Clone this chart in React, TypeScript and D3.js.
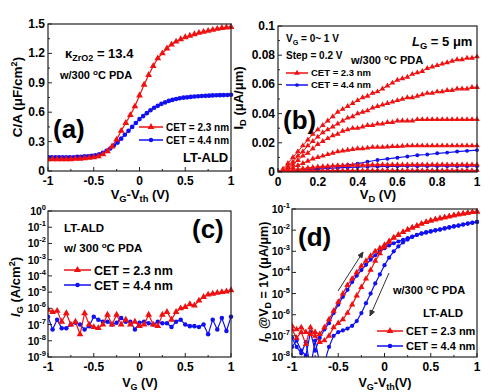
import React from 'react';
import * as d3 from 'd3';

const RED = '#f01010';
const BLUE = '#1010f0';
const FONT = '"Liberation Sans", Arial, sans-serif';

// ---- panel (a): C-V ----
const aRedStep = 0.05;
const aRedCV = [
  0.12, 0.12, 0.12, 0.12, 0.12, 0.12, 0.125, 0.125, 0.13, 0.135,
  0.14, 0.15, 0.17, 0.2, 0.25, 0.32, 0.41, 0.49, 0.57, 0.66,
  0.77, 0.88, 0.98, 1.07, 1.15, 1.2, 1.25, 1.29, 1.32, 1.345,
  1.365, 1.38, 1.395, 1.41, 1.42, 1.43, 1.44, 1.45, 1.46, 1.465,
  1.47,
];
const aBlueStep = 0.04;
const aBlueCV = [
  0.14, 0.14, 0.14, 0.14, 0.14, 0.14, 0.14, 0.14, 0.145, 0.145,
  0.15, 0.15, 0.155, 0.16, 0.17, 0.185, 0.205, 0.23, 0.26, 0.29,
  0.33, 0.37, 0.41, 0.45, 0.49, 0.53, 0.56, 0.59, 0.62, 0.645,
  0.665, 0.685, 0.7, 0.715, 0.725, 0.735, 0.742, 0.748, 0.752, 0.756,
  0.76, 0.763, 0.765, 0.767, 0.769, 0.771, 0.773, 0.774, 0.775, 0.776,
  0.778,
];
const aYTicks = [0, 0.3, 0.6, 0.9, 1.2, 1.5];
const aXTicks = [-1, -0.5, 0, 0.5, 1];

// ---- panel (b): ID-VD ----
const bRedStep = 0.025;
const bRed10 = [
  0, 0.002, 0.006, 0.01, 0.014, 0.018, 0.022, 0.026, 0.029, 0.032,
  0.035, 0.038, 0.041, 0.043, 0.045, 0.047, 0.049, 0.051, 0.052, 0.054,
  0.055, 0.057, 0.059, 0.061, 0.063, 0.064, 0.065, 0.067, 0.068, 0.069,
  0.071, 0.072, 0.073, 0.074, 0.075, 0.076, 0.077, 0.077, 0.078, 0.078,
  0.079,
];
const bRed08 = [
  0, 0.001, 0.004, 0.007, 0.011, 0.014, 0.018, 0.021, 0.024, 0.027,
  0.029, 0.031, 0.033, 0.035, 0.037, 0.038, 0.04, 0.041, 0.042, 0.044,
  0.045, 0.046, 0.047, 0.048, 0.049, 0.05, 0.051, 0.051, 0.052, 0.053,
  0.054, 0.054, 0.055, 0.055, 0.056, 0.056, 0.057, 0.057, 0.057, 0.058,
  0.058,
];
const bRed06 = [
  0, 0.001, 0.003, 0.005, 0.008, 0.011, 0.013, 0.016, 0.019, 0.021,
  0.023, 0.025, 0.026, 0.028, 0.029, 0.03, 0.03, 0.031, 0.032, 0.032,
  0.033, 0.033, 0.034, 0.034, 0.035, 0.035, 0.035, 0.035, 0.036, 0.036,
  0.036, 0.036, 0.036, 0.036, 0.036, 0.036, 0.036, 0.036, 0.036, 0.036,
  0.036,
];
const bRed04 = [
  0, 0.0005, 0.0015, 0.003, 0.0045, 0.006, 0.0075, 0.009, 0.01, 0.011,
  0.012, 0.013, 0.014, 0.0145, 0.015, 0.0155, 0.016, 0.016, 0.0165, 0.017,
  0.017, 0.017, 0.0173, 0.0175, 0.0175, 0.0178, 0.018, 0.018, 0.018, 0.018,
  0.018, 0.018, 0.018, 0.018, 0.018, 0.018, 0.018, 0.018, 0.018, 0.018,
  0.018,
];
const bRed02 = [
  0, 0.0003, 0.0008, 0.0013, 0.0018, 0.0023, 0.0028, 0.0032, 0.0035, 0.0038,
  0.004, 0.0042, 0.0044, 0.0045, 0.0046, 0.0047, 0.0048, 0.0048, 0.0049, 0.0049,
  0.005, 0.005, 0.005, 0.005, 0.005, 0.005, 0.005, 0.005, 0.005, 0.005,
  0.005, 0.005, 0.005, 0.005, 0.005, 0.005, 0.005, 0.005, 0.005, 0.005,
  0.005,
];
const bRed00 = [
  0, 0.0003, 0.0006, 0.0008, 0.0009, 0.001, 0.001, 0.001, 0.001, 0.001,
  0.001, 0.001, 0.001, 0.001, 0.001, 0.001, 0.001, 0.001, 0.001, 0.001,
  0.001, 0.001, 0.001, 0.001, 0.001, 0.001, 0.001, 0.001, 0.001, 0.001,
  0.001, 0.001, 0.001, 0.001, 0.001, 0.001, 0.001, 0.001, 0.001, 0.001,
  0.001,
];
const bBlueStep = 0.05;
const bBlue10 = [
  0, 0.0005, 0.001, 0.0017, 0.0025, 0.0032, 0.004, 0.0048, 0.0057, 0.007,
  0.0082, 0.009, 0.0098, 0.0106, 0.0115, 0.012, 0.0128, 0.0133, 0.014, 0.0145,
  0.015,
];
const bBlue08 = [
  0, 0.0004, 0.0009, 0.0014, 0.0019, 0.0024, 0.0028, 0.0031, 0.0034, 0.0036,
  0.0037, 0.0038, 0.0039, 0.004, 0.004, 0.004, 0.004, 0.004, 0.004, 0.004,
  0.004,
];
const bBlue06 = [
  0, 0.0002, 0.0004, 0.0006, 0.0007, 0.0008, 0.0008, 0.0008, 0.0008, 0.0008,
  0.0008, 0.0008, 0.0008, 0.0008, 0.0008, 0.0008, 0.0008, 0.0008, 0.0008, 0.0008,
  0.0008,
];
const bBlue04 = [
  0, 0.0001, 0.0002, 0.0002, 0.0002, 0.0002, 0.0002, 0.0002, 0.0002, 0.0002,
  0.0002, 0.0002, 0.0002, 0.0002, 0.0002, 0.0002, 0.0002, 0.0002, 0.0002, 0.0002,
  0.0002,
];
const bYTicks = [0, 0.02, 0.04, 0.06, 0.08, 0.1];
const bXTicks = [0, 0.2, 0.4, 0.6, 0.8, 1];

// ---- panel (c): IG-VG ----
const cStep = 0.05;
const cRedIG = [
  8e-7, 6e-7, 7e-7, 1.5e-7, 5e-7, 1e-7, 1.5e-7, 2.5e-8, 5e-7, 1e-7,
  7e-8, 6e-8, 1e-7, 4e-7, 1e-7, 4e-7, 1e-7, 2e-7, 1e-7, 1.5e-7,
  8e-8, 1e-7, 4e-7, 1e-7, 8e-8, 4e-7, 6e-7, 2e-7, 6e-7, 1e-6,
  1.2e-6, 1.8e-6, 1.5e-6, 3e-6, 5e-6, 7e-6, 8e-6, 9e-6, 1e-5, 1.1e-5,
  1.3e-5,
];
const cBlueIG = [
  3e-7, 5e-8, 2e-7, 6e-8, 6e-8, 1e-7, 1.3e-7, 1e-7, 5e-8, 8e-8,
  3e-7, 2e-7, 1.5e-7, 1.5e-7, 1e-7, 1.3e-7, 2.5e-7, 1.5e-7, 1.5e-7, 5e-8,
  1.3e-7, 1.5e-7, 1.2e-7, 1e-7, 1.5e-7, 1.2e-7, 1.2e-7, 7e-8, 1.5e-7, 2e-7,
  1e-7, 8e-8, 8e-8, 7e-8, 1e-7, 2.5e-8, 2e-7, 5e-8, 2.5e-7, 4e-8,
  3e-7,
];
const cExps = [0, -1, -2, -3, -4, -5, -6, -7, -8, -9];

// ---- panel (d): ID-VG hysteresis ----
const dStep = 0.05;
const dRedFwd = [
  3e-7, 2e-7, 2.5e-7, 1.5e-7, 1.2e-7, 1.5e-7, 1.2e-7, 2.5e-7, 6e-7, 1.5e-6,
  4e-6, 1e-5, 2.5e-5, 5e-5, 1e-4, 2e-4, 3.5e-4, 6e-4, 1e-3, 1.4e-3,
  2e-3, 3e-3, 4.5e-3, 6e-3, 8e-3, 1.05e-2, 1.3e-2, 1.6e-2, 2e-2, 2.4e-2,
  2.8e-2, 3.2e-2, 3.6e-2, 4e-2, 4.5e-2, 5e-2, 5.5e-2, 6e-2, 6.5e-2, 7e-2,
  7.5e-2,
];
const dRedRev = [
  2e-7, 8e-8, 1.5e-7, 4e-8, 2.5e-7, 1e-7, 5e-8, 6e-8, 1e-7, 2.5e-7,
  4e-7, 6e-7, 1.2e-6, 3e-6, 8e-6, 2e-5, 5e-5, 1.3e-4, 3.5e-4, 8e-4,
  1.6e-3, 2.8e-3, 4.3e-3, 6e-3, 8e-3, 1.05e-2, 1.3e-2, 1.6e-2, 2e-2, 2.4e-2,
  2.8e-2, 3.2e-2, 3.6e-2, 4e-2, 4.5e-2, 5e-2, 5.5e-2, 6e-2, 6.5e-2, 7e-2,
  7.5e-2,
];
const dBlueFwd = [
  3e-8, 6e-8, 2e-8, 1.2e-8, 1.5e-7, 2e-8, 8e-8, 2e-7, 4e-7, 1.2e-6,
  3e-6, 7e-6, 1.5e-5, 3.5e-5, 7e-5, 1.3e-4, 2.3e-4, 4e-4, 6.5e-4, 1e-3,
  1.4e-3, 1.9e-3, 2.4e-3, 2.9e-3, 3.5e-3, 4.2e-3, 5e-3, 5.9e-3, 6.8e-3, 7.6e-3,
  8.5e-3, 9.5e-3, 1.05e-2, 1.17e-2, 1.3e-2, 1.45e-2, 1.6e-2, 1.8e-2, 2e-2, 2.2e-2,
  2.45e-2,
];
const dBlueRev = [
  8e-8, 3e-8, 1.5e-8, 5e-8, 3e-9, 6e-8, 5e-9, 5e-9, 3e-8, 1e-7,
  1.5e-7, 1.8e-7, 2.2e-7, 3e-7, 5e-7, 1.2e-6, 3.5e-6, 1e-5, 3e-5, 8e-5,
  2.2e-4, 5e-4, 1e-3, 1.7e-3, 2.6e-3, 3.6e-3, 4.8e-3, 6e-3, 7e-3, 8e-3,
  9e-3, 1e-2, 1.1e-2, 1.25e-2, 1.4e-2, 1.55e-2, 1.7e-2, 1.9e-2, 2.1e-2, 2.3e-2,
  2.45e-2,
];
const dExps = [-1, -2, -3, -4, -5, -6, -7, -8];

type Box = { x0: number; x1: number; y0: number; y1: number };
type Scale = (v: number) => number;

const boxA: Box = { x0: 48, x1: 231, y0: 24, y1: 171 };
const boxB: Box = { x0: 278, x1: 477, y0: 26, y1: 172 };
const boxC: Box = { x0: 48, x1: 231, y0: 211, y1: 357 };
const boxD: Box = { x0: 292, x1: 477, y0: 209, y1: 357 };

const grid = (start: number, step: number, n: number) => d3.range(n).map(i => start + i * step);

function Series({ xs, ys, x, y, color, kind, size, lw = 1.2 }: {
  xs: number[]; ys: number[]; x: Scale; y: Scale; color: string; kind: 'tri' | 'circle'; size: number; lw?: number;
}) {
  const pts: [number, number][] = xs.map((v, i) => [x(v), y(ys[i])]);
  const line = d3.line();
  const tri = d3.symbol().type(d3.symbolTriangle).size(size)() || '';
  const r = Math.sqrt(size / Math.PI);
  return (
    <g>
      <path d={line(pts) || ''} fill="none" stroke={color} strokeWidth={lw} />
      <g fill={color}>
        {pts.map((p, i) =>
          kind === 'tri'
            ? <path key={i} d={tri} transform={`translate(${p[0]},${p[1]})`} />
            : <circle key={i} cx={p[0]} cy={p[1]} r={r} />
        )}
      </g>
    </g>
  );
}

function Legend({ x, y, color, kind, label, fs, len = 26, size = 16 }: {
  x: number; y: number; color: string; kind: 'tri' | 'circle'; label: string; fs: number; len?: number; size?: number;
}) {
  const tri = d3.symbol().type(d3.symbolTriangle).size(size)() || '';
  return (
    <g>
      <line x1={x} x2={x + len} y1={y} y2={y} stroke={color} strokeWidth={1.5} />
      {kind === 'tri'
        ? <path d={tri} fill={color} transform={`translate(${x + len / 2},${y})`} />
        : <circle cx={x + len / 2} cy={y} r={Math.sqrt(size / Math.PI)} fill={color} />}
      <text x={x + len + 3} y={y + fs * 0.36} fontSize={fs} fontWeight="bold">{label}</text>
    </g>
  );
}

function LinTicks({ box, x, y, xTicks, yTicks, xMinor, yMinor, xFmt, yFmt, fs }: {
  box: Box; x: Scale; y: Scale; xTicks: number[]; yTicks: number[]; xMinor: number[]; yMinor: number[];
  xFmt: (v: number) => string; yFmt: (v: number) => string; fs: number;
}) {
  return (
    <g stroke="#222" strokeWidth={1}>
      {xTicks.map(v => <line key={'xm' + v} x1={x(v)} x2={x(v)} y1={box.y1} y2={box.y1 - 4} />)}
      {xMinor.map(v => <line key={'xn' + v} x1={x(v)} x2={x(v)} y1={box.y1} y2={box.y1 - 2} />)}
      {yTicks.map(v => <line key={'ym' + v} x1={box.x0} x2={box.x0 + 4} y1={y(v)} y2={y(v)} />)}
      {yMinor.map(v => <line key={'yn' + v} x1={box.x0} x2={box.x0 + 2} y1={y(v)} y2={y(v)} />)}
      <g stroke="none" fontSize={fs} fontWeight="bold">
        {xTicks.map(v => <text key={'xl' + v} x={x(v)} y={box.y1 + 14} textAnchor="middle">{xFmt(v)}</text>)}
        {yTicks.map(v => <text key={'yl' + v} x={box.x0 - 3} y={y(v) + fs * 0.34} textAnchor="end">{yFmt(v)}</text>)}
      </g>
    </g>
  );
}

function LogYTicks({ box, y, exps }: { box: Box; y: Scale; exps: number[] }) {
  return (
    <g>
      {exps.map(e => (
        <g key={e}>
          <line x1={box.x0} x2={box.x0 + 4} y1={y(Math.pow(10, e))} y2={y(Math.pow(10, e))} stroke="#222" />
          <text x={box.x0 - 2} y={y(Math.pow(10, e)) + 4} textAnchor="end" fontSize={10.5} fontWeight="bold">
            10<tspan dy={-5} fontSize={7.5}>{e}</tspan>
          </text>
        </g>
      ))}
    </g>
  );
}

function Frame({ box }: { box: Box }) {
  return <rect x={box.x0} y={box.y0} width={box.x1 - box.x0} height={box.y1 - box.y0} fill="none" stroke="#222" strokeWidth={1.2} />;
}

function Clip({ id, box }: { id: string; box: Box }) {
  return (
    <clipPath id={id}>
      <rect x={box.x0} y={box.y0 - 3} width={box.x1 - box.x0 + 3} height={box.y1 - box.y0 + 3} />
    </clipPath>
  );
}

const sub = (t: string) => <tspan fontSize="0.72em" dy={3}>{t}</tspan>;

export default function App() {
  const ax = d3.scaleLinear().domain([-1, 1]).range([boxA.x0, boxA.x1]);
  const ay = d3.scaleLinear().domain([0, 1.5]).range([boxA.y1, boxA.y0]);
  const bx = d3.scaleLinear().domain([0, 1]).range([boxB.x0, boxB.x1]);
  const by = d3.scaleLinear().domain([0, 0.1]).range([boxB.y1, boxB.y0]);
  const cx = d3.scaleLinear().domain([-1, 1]).range([boxC.x0, boxC.x1]);
  const cy = d3.scaleLog().domain([1e-9, 1]).range([boxC.y1, boxC.y0]);
  const dx = d3.scaleLinear().domain([-1, 1]).range([boxD.x0, boxD.x1]);
  const dy = d3.scaleLog().domain([1e-8, 1e-1]).range([boxD.y1, boxD.y0]);

  const aRedX = grid(-1, aRedStep, aRedCV.length);
  const aBlueX = grid(-1, aBlueStep, aBlueCV.length);
  const bRedX = grid(0, bRedStep, bRed10.length);
  const bBlueX = grid(0, bBlueStep, bBlue10.length);
  const cX = grid(-1, cStep, cRedIG.length);
  const dX = grid(-1, dStep, dRedFwd.length);

  const fmtA = (v: number) => (v === 0 ? '0' : v.toFixed(1));
  const fmtX = (v: number) => String(v);
  const fmtB = (v: number) => (v === 0 ? '0' : String(v));

  const arrow = (x1: number, y1: number, x2: number, y2: number) => {
    const a = Math.atan2(y2 - y1, x2 - x1);
    const h = 6, w = 0.4;
    const p1 = [x2 - h * Math.cos(a - w), y2 - h * Math.sin(a - w)];
    const p2 = [x2 - h * Math.cos(a + w), y2 - h * Math.sin(a + w)];
    return (
      <g stroke="#333" strokeWidth={1} fill="#333">
        <line x1={x1} y1={y1} x2={x2} y2={y2} />
        <path d={`M${x2},${y2}L${p1[0]},${p1[1]}L${p2[0]},${p2[1]}Z`} />
      </g>
    );
  };

  return (
    <svg width={492} height={392} style={{ position: 'absolute', left: 0, top: 0, background: '#fff' }} fontFamily={FONT}>
      <defs>
        <Clip id="ca" box={boxA} />
        <Clip id="cb" box={boxB} />
        <Clip id="cc" box={boxC} />
        <Clip id="cd" box={boxD} />
      </defs>

      {/* ---------- (a) ---------- */}
      <g clipPath="url(#ca)">
        <Series xs={aBlueX} ys={aBlueCV} x={ax} y={ay} color={BLUE} kind="circle" size={17} />
        <Series xs={aRedX} ys={aRedCV} x={ax} y={ay} color={RED} kind="tri" size={20} />
      </g>
      <Frame box={boxA} />
      <LinTicks box={boxA} x={ax} y={ay} xTicks={aXTicks} yTicks={aYTicks}
        xMinor={[-0.75, -0.25, 0.25, 0.75]} yMinor={[0.15, 0.45, 0.75, 1.05, 1.35]}
        xFmt={fmtX} yFmt={fmtA} fs={12} />
      <text transform="translate(22,97) rotate(-90)" textAnchor="middle" fontSize={13.5} fontWeight="bold">
        C/A (μF/cm<tspan fontSize={9} dy={-5}>2</tspan><tspan dy={5}>)</tspan>
      </text>
      <text x={140} y={199} textAnchor="middle" fontSize={13} fontWeight="bold">
        V{sub('G')}<tspan dy={-3}>-V</tspan>{sub('th')}<tspan dy={-3}> (V)</tspan>
      </text>
      <text x={65} y={58} fontSize={13} fontWeight="bold">
        κ<tspan fontSize={9} dy={3}>ZrO2</tspan><tspan dy={-3}> = 13.4</tspan>
      </text>
      <text x={60} y={79} fontSize={11} fontWeight="bold">
        w/300 <tspan fontSize={8} dy={-4}>o</tspan><tspan dy={4}>C PDA</tspan>
      </text>
      <text x={53} y={138} fontSize={26} fontWeight="bold">(a)</text>
      <Legend x={139} y={127} color={RED} kind="tri" label="CET = 2.3 nm" fs={10} len={24} size={20} />
      <Legend x={139} y={140} color={BLUE} kind="circle" label="CET = 4.4 nm" fs={10} len={24} size={15} />
      <text x={183} y={162} fontSize={13} fontWeight="bold">LT-ALD</text>

      {/* ---------- (b) ---------- */}
      <g clipPath="url(#cb)">
        {[bBlue04, bBlue06, bBlue08, bBlue10].map((s, i) => (
          <Series key={'bb' + i} xs={bBlueX} ys={s} x={bx} y={by} color={BLUE} kind="circle" size={12} />
        ))}
        {[bRed00, bRed02, bRed04, bRed06, bRed08, bRed10].map((s, i) => (
          <Series key={'br' + i} xs={bRedX} ys={s} x={bx} y={by} color={RED} kind="tri" size={14} lw={1} />
        ))}
      </g>
      <Frame box={boxB} />
      <LinTicks box={boxB} x={bx} y={by} xTicks={bXTicks} yTicks={bYTicks}
        xMinor={[0.1, 0.3, 0.5, 0.7, 0.9]} yMinor={[0.01, 0.03, 0.05, 0.07, 0.09]}
        xFmt={fmtB} yFmt={fmtB} fs={12} />
      <text transform="translate(243,98) rotate(-90)" textAnchor="middle" fontSize={13} fontWeight="bold">
        I{sub('D')}<tspan dy={-3}> (μA/μm)</tspan>
      </text>
      <text x={378} y={199} textAnchor="middle" fontSize={13} fontWeight="bold">
        V{sub('D')}<tspan dy={-3}> (V)</tspan>
      </text>
      <text x={286} y={42} fontSize={10} fontWeight="bold">
        V{sub('G')}<tspan dy={-3}> = 0~ 1 V</tspan>
      </text>
      <text x={286} y={59} fontSize={10} fontWeight="bold">Step = 0.2 V</text>
      <text x={412} y={46} fontSize={13} fontWeight="bold">
        <tspan fontStyle="italic">L</tspan>{sub('G')}<tspan dy={-3}> = 5 μm</tspan>
      </text>
      <text x={351} y={64} fontSize={11} fontWeight="bold">
        w/300 <tspan fontSize={8} dy={-4}>o</tspan><tspan dy={4}>C PDA</tspan>
      </text>
      <Legend x={286} y={73} color={RED} kind="tri" label="CET = 2.3 nm" fs={9.5} len={22} size={14} />
      <Legend x={286} y={85} color={BLUE} kind="circle" label="CET = 4.4 nm" fs={9.5} len={22} size={11} />
      <text x={283} y={129} fontSize={26} fontWeight="bold">(b)</text>

      {/* ---------- (c) ---------- */}
      <g clipPath="url(#cc)">
        <Series xs={cX} ys={cBlueIG} x={cx} y={cy} color={BLUE} kind="circle" size={16} />
        <Series xs={cX} ys={cRedIG} x={cx} y={cy} color={RED} kind="tri" size={20} />
      </g>
      <Frame box={boxC} />
      <LinTicks box={boxC} x={cx} y={() => -100} xTicks={aXTicks} yTicks={[]}
        xMinor={[-0.75, -0.25, 0.25, 0.75]} yMinor={[]} xFmt={fmtX} yFmt={fmtX} fs={12} />
      <LogYTicks box={boxC} y={cy} exps={cExps} />
      <text transform="translate(20,287) rotate(-90)" textAnchor="middle" fontSize={13} fontWeight="bold">
        <tspan fontStyle="italic">I</tspan>{sub('G')}<tspan dy={-3}> (A/cm</tspan><tspan fontSize={9} dy={-5}>2</tspan><tspan dy={5}>)</tspan>
      </text>
      <text x={140} y={387} textAnchor="middle" fontSize={12.5} fontWeight="bold">
        V{sub('G')}<tspan dy={-3}> (V)</tspan>
      </text>
      <text x={64} y={232} fontSize={11.5} fontWeight="bold">LT-ALD</text>
      <text x={64} y={252} fontSize={11.5} fontWeight="bold">
        w/ 300 <tspan fontSize={8} dy={-4}>o</tspan><tspan dy={4}>C PDA</tspan>
      </text>
      <text x={192} y={238} fontSize={26} fontWeight="bold">(c)</text>
      <Legend x={64} y={270} color={RED} kind="tri" label="CET = 2.3 nm" fs={12.5} len={27} size={22} />
      <Legend x={64} y={285} color={BLUE} kind="circle" label="CET = 4.4 nm" fs={12.5} len={27} size={16} />

      {/* ---------- (d) ---------- */}
      <g clipPath="url(#cd)">
        <Series xs={dX} ys={dBlueRev} x={dx} y={dy} color={BLUE} kind="circle" size={14} />
        <Series xs={dX} ys={dBlueFwd} x={dx} y={dy} color={BLUE} kind="circle" size={14} />
        <Series xs={dX} ys={dRedRev} x={dx} y={dy} color={RED} kind="tri" size={17} />
        <Series xs={dX} ys={dRedFwd} x={dx} y={dy} color={RED} kind="tri" size={17} />
      </g>
      <Frame box={boxD} />
      <LinTicks box={boxD} x={dx} y={() => -100} xTicks={aXTicks} yTicks={[]}
        xMinor={[-0.75, -0.25, 0.25, 0.75]} yMinor={[]} xFmt={fmtX} yFmt={fmtX} fs={12} />
      <LogYTicks box={boxD} y={dy} exps={dExps} />
      <text transform="translate(268,282) rotate(-90)" textAnchor="middle" fontSize={12.5} fontWeight="bold">
        <tspan fontStyle="italic">I</tspan>{sub('D')}<tspan dy={-3}> @V</tspan>{sub('D')}<tspan dy={-3}> = 1V (μA/μm)</tspan>
      </text>
      <text x={385} y={387} textAnchor="middle" fontSize={12.5} fontWeight="bold">
        V{sub('G')}<tspan dy={-3}>-V</tspan>{sub('th')}<tspan dy={-3}>(V)</tspan>
      </text>
      <text x={298} y={246} fontSize={26} fontWeight="bold">(d)</text>
      {arrow(338, 291, 363, 252)}
      {arrow(389, 273, 370, 316)}
      <text x={393} y={294} fontSize={11} fontWeight="bold">
        w/300 <tspan fontSize={8} dy={-4}>o</tspan><tspan dy={4}>C PDA</tspan>
      </text>
      <text x={423} y={317} fontSize={11.5} fontWeight="bold">LT-ALD</text>
      <Legend x={377} y={331} color={RED} kind="tri" label="CET = 2.3 nm" fs={11} len={26} size={20} />
      <Legend x={377} y={346} color={BLUE} kind="circle" label="CET = 4.4 nm" fs={11} len={26} size={16} />
    </svg>
  );
}
